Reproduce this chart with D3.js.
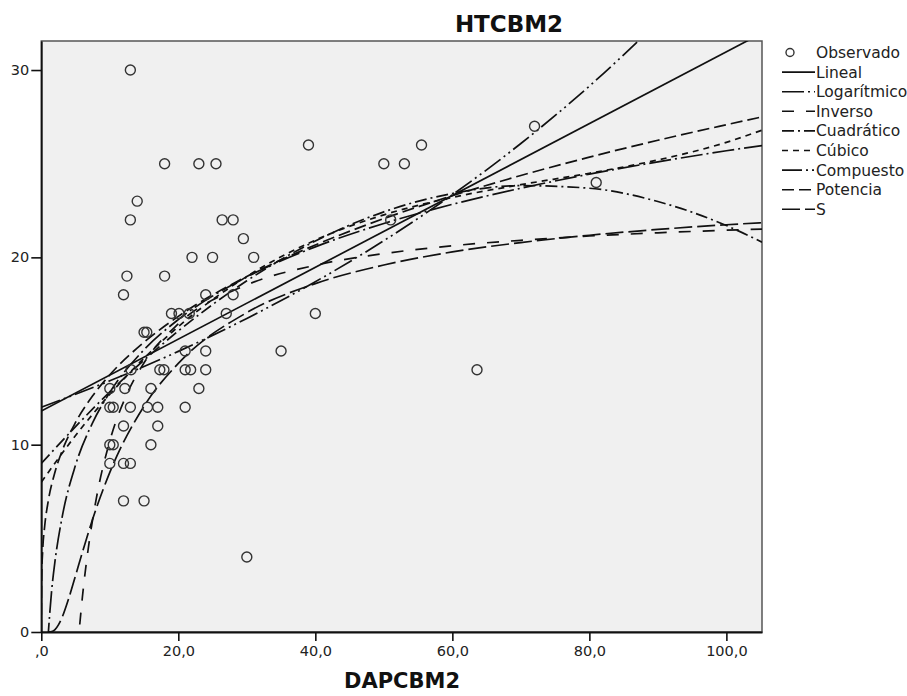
<!DOCTYPE html>
<html>
<head>
<meta charset="utf-8">
<script src="https://cdn.jsdelivr.net/npm/d3@7"></script>
<style>
  body { margin: 0; background: #fff; }
  svg { display: block; font-family: "DejaVu Sans", sans-serif; }
</style>
</head>
<body>
<svg id="chart"></svg>
<script>
// Observed points, [DAPCBM2, HTCBM2]
const observado = [
  [13,30],
  [39,26],[55.5,26],
  [72,27],
  [18,25],[23,25],[25.5,25],[50,25],[53,25],
  [81,24],
  [14,23],
  [13,22],[26.4,22],[28,22],[51,22],
  [29.5,21],
  [22,20],[25,20],[31,20],
  [12.5,19],[18,19],
  [12,18],[24,18],[28,18],
  [19,17],[20.1,17],[21.6,17],[27,17],[40,17],
  [15,16],[15.4,16],
  [21,15],[24,15],[35,15],
  [13.1,14],[17.3,14],[17.9,14],[21,14],[21.8,14],[24,14],[63.6,14],
  [10,13],[12.2,13],[16,13],[23,13],
  [10,12],[10.5,12],[13,12],[15.5,12],[17,12],[21,12],
  [12,11],[17,11],
  [10,10],[10.5,10],[16,10],
  [10,9],[12,9],[13,9],
  [12,7],[15,7],
  [30,4]
];

// Fitted curves as [x, y] samples
const lineal = [[0,11.8],[105.2,31.97]];
const logaritmico = [[0.9,-0.69],[1.5,2.17],[2,3.78],[3,6.05],[5,8.91],[7.5,11.18],[10,12.79],[15,15.07],[20,16.68],
  [30,18.95],[40,20.56],[50,21.81],[60,22.83],[70,23.69],[80,24.44],[90,25.1],[100,25.69],[105.2,25.97]];
const inverso = [[5.3,-0.88],[6,1.87],[7,4.84],[8,7.07],[10,10.2],[12.5,12.7],[15,14.37],[20,16.45],[30,18.53],
  [40,19.58],[50,20.2],[60,20.62],[70,20.91],[80,21.14],[90,21.31],[100,21.45],[105.2,21.51]];
const cuadratico = [[0,9],[10,12.82],[20,16.07],[30,18.75],[40,20.87],[50,22.43],[60,23.41],[70,23.83],
  [80,23.69],[90,22.98],[100,21.7],[105.2,20.81]];
const cubico = [[0,8],[5,10.49],[10,12.69],[20,16.3],[30,18.98],[40,20.92],[50,22.27],[60,23.2],[70,23.88],
  [80,24.49],[90,25.2],[100,26.14],[105.2,26.79]];
const compuesto = [[0,12],[10,13.41],[20,14.98],[30,16.74],[40,18.7],[50,20.89],[60,23.34],[70,26.08],
  [80,29.14],[90,32.55]];
const potencia = [[0,0],[0.01,1.79],[0.05,2.88],[0.2,4.33],[0.5,5.67],[1,6.96],[2,8.54],[3,9.63],[5,11.19],
  [7.5,12.61],[10,13.73],[15,15.47],[20,16.85],[30,18.98],[40,20.66],[50,22.07],[60,23.29],[70,24.37],
  [80,25.35],[90,26.25],[100,27.08],[105.2,27.5]];
const sCurve = [[1,0],[1.5,0.02],[2,0.13],[2.5,0.38],[3,0.75],[4,1.79],[5,3.01],[6,4.26],[7.5,6.03],[10,8.52],
  [15,12.06],[20,14.34],[30,17.05],[40,18.6],[50,19.59],[60,20.29],[70,20.79],[80,21.18],[90,21.49],
  [100,21.74],[105.2,21.85]];

const xTicks = [0, 20, 40, 60, 80, 100];
const yTicks = [0, 10, 20, 30];
const legendLabels = ["Observado", "Lineal", "Logarítmico", "Inverso", "Cuadrático", "Cúbico", "Compuesto", "Potencia", "S"];

(function () {
  const W = 907, H = 696;
  const P = { left: 41.3, right: 762, top: 41, bottom: 632 };

  // dash pattern per fitted model (same order as legend, minus Observado)
  const curves = [
    { data: lineal,      dash: null },
    { data: logaritmico, dash: "22,4,2,4" },
    { data: inverso,     dash: "12,12" },
    { data: cuadratico,  dash: "12,4,2,4" },
    { data: cubico,      dash: "6,5" },
    { data: compuesto,   dash: "20,4,2,4,2,4" },
    { data: potencia,    dash: "12,5" },
    { data: sCurve,      dash: "18,5" }
  ];

  const svg = d3.select("#chart").attr("width", W).attr("height", H);

  const x = d3.scaleLinear().domain([0, 105.2]).range([P.left, P.right]);
  const y = d3.scaleLinear().domain([0, 31.55]).range([P.bottom, P.top]);

  // plot background + frame
  svg.append("rect")
    .attr("x", P.left).attr("y", P.top)
    .attr("width", P.right - P.left).attr("height", P.bottom - P.top)
    .attr("fill", "#f0f0f0")
    .attr("stroke", "#555").attr("stroke-width", 1.5);

  svg.append("clipPath").attr("id", "plot-clip")
    .append("rect")
    .attr("x", P.left).attr("y", P.top)
    .attr("width", P.right - P.left).attr("height", P.bottom - P.top);

  // curves
  const line = d3.line()
    .x(d => x(d[0]))
    .y(d => y(d[1]))
    .curve(d3.curveMonotoneX);

  const gCurves = svg.append("g").attr("clip-path", "url(#plot-clip)");
  curves.forEach(c => {
    gCurves.append("path")
      .datum(c.data)
      .attr("fill", "none")
      .attr("stroke", "#111")
      .attr("stroke-width", 1.7)
      .attr("stroke-dasharray", c.dash)
      .attr("d", line);
  });

  // observed points
  svg.append("g")
    .selectAll("circle")
    .data(observado)
    .join("circle")
    .attr("cx", d => x(d[0]))
    .attr("cy", d => y(d[1]))
    .attr("r", 5)
    .attr("fill", "none")
    .attr("stroke", "#333")
    .attr("stroke-width", 1.4);

  // axes
  const xAxis = svg.append("g")
    .attr("transform", `translate(0,${P.bottom})`)
    .call(d3.axisBottom(x).tickValues(xTicks).tickSize(9).tickPadding(5).tickSizeOuter(0)
      .tickFormat(d => d === 0 ? ",0" : d.toFixed(1).replace(".", ",")));

  const yAxis = svg.append("g")
    .attr("transform", `translate(${P.left},0)`)
    .call(d3.axisLeft(y).tickValues(yTicks).tickSize(10).tickPadding(2).tickSizeOuter(0));

  [xAxis, yAxis].forEach(a => {
    a.select(".domain").attr("stroke", "#111").attr("stroke-width", 1.8);
    a.selectAll(".tick line").attr("stroke", "#111").attr("stroke-width", 1.6);
    a.selectAll(".tick text")
      .attr("fill", "#222")
      .attr("font-size", 14.5)
      .attr("font-family", "DejaVu Sans, sans-serif");
  });

  // titles
  svg.append("text")
    .attr("x", 509).attr("y", 31.5)
    .attr("text-anchor", "middle")
    .attr("font-size", 23).attr("font-weight", "bold")
    .attr("fill", "#111")
    .text("HTCBM2");

  svg.append("text")
    .attr("x", 402).attr("y", 688)
    .attr("text-anchor", "middle")
    .attr("font-size", 21).attr("font-weight", "bold")
    .attr("fill", "#111")
    .text("DAPCBM2");

  // legend
  const lg = svg.append("g").attr("transform", "translate(782,52.5)");
  legendLabels.forEach((label, i) => {
    const row = lg.append("g").attr("transform", `translate(0,${i * 19.6})`);
    if (i === 0) {
      row.append("circle")
        .attr("cx", 8).attr("cy", 0).attr("r", 4)
        .attr("fill", "none").attr("stroke", "#333").attr("stroke-width", 1.4);
    } else {
      row.append("line")
        .attr("x1", 0).attr("x2", 33)
        .attr("y1", 0).attr("y2", 0)
        .attr("stroke", "#111").attr("stroke-width", 1.6)
        .attr("stroke-dasharray", curves[i - 1].dash);
    }
    row.append("text")
      .attr("x", 34).attr("y", 0).attr("dy", "0.36em")
      .attr("font-size", 15.5)
      .attr("fill", "#222")
      .text(label);
  });
})();
</script>
</body>
</html>
